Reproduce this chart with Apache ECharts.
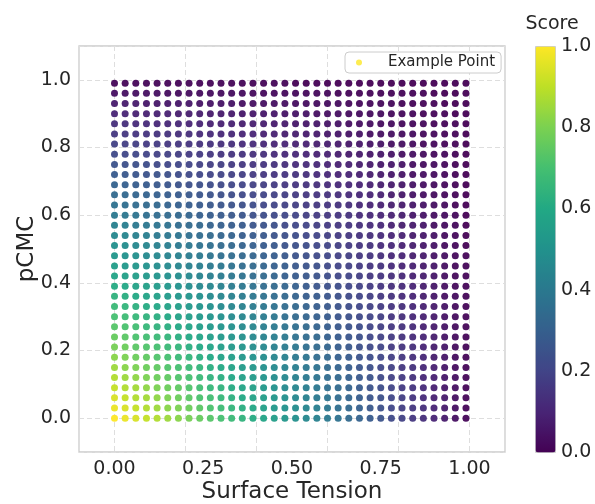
<!DOCTYPE html>
<html>
<head>
<meta charset="utf-8">
<script src="https://cdn.jsdelivr.net/npm/echarts@6/dist/echarts.min.js"></script>
<style>html,body{margin:0;padding:0;background:#fff}#c{width:595px;height:504px}</style>
</head>
<body>
<div id="c"></div>
<script>
// Grid coordinates (Surface Tension on x, pCMC on y)
const xGrid = [0,0.03,0.06,0.09,0.12,0.15,0.18,0.21,0.24,0.27,0.30,0.33,0.36,0.39,0.42,0.45,0.48,0.51,0.54,0.57,0.60,0.63,0.66,0.69,0.72,0.75,0.78,0.81,0.84,0.87,0.90,0.93,0.96,0.99];
const yGrid = [0,0.03,0.06,0.09,0.12,0.15,0.18,0.21,0.24,0.27,0.30,0.33,0.36,0.39,0.42,0.45,0.48,0.51,0.54,0.57,0.60,0.63,0.66,0.69,0.72,0.75,0.78,0.81,0.84,0.87,0.90,0.93,0.96,0.99];
// Score per row (row index = yGrid index, column index = xGrid index)
const scores = [
[1,.97,.94,.91,.88,.85,.82,.79,.76,.73,.70,.67,.64,.61,.58,.55,.52,.49,.46,.43,.40,.37,.34,.31,.28,.25,.22,.19,.16,.13,.10,.07,.04,.01],
[.97,.94,.91,.88,.85,.82,.80,.77,.74,.71,.68,.65,.62,.59,.56,.53,.50,.48,.45,.42,.39,.36,.33,.30,.27,.24,.21,.18,.16,.13,.10,.07,.04,.01],
[.94,.91,.88,.86,.83,.80,.77,.74,.71,.69,.66,.63,.60,.57,.55,.52,.49,.46,.43,.40,.38,.35,.32,.29,.26,.24,.21,.18,.15,.12,.09,.07,.04,.01],
[.91,.88,.86,.83,.80,.77,.75,.72,.69,.66,.64,.61,.58,.56,.53,.50,.47,.45,.42,.39,.36,.34,.31,.28,.25,.23,.20,.17,.15,.12,.09,.06,.04,.01],
[.88,.85,.83,.80,.77,.75,.72,.70,.67,.64,.62,.59,.56,.54,.51,.48,.46,.43,.40,.38,.35,.33,.30,.27,.25,.22,.19,.17,.14,.11,.09,.06,.04,.01],
[.85,.82,.80,.77,.75,.72,.70,.67,.65,.62,.60,.57,.54,.52,.49,.47,.44,.42,.39,.37,.34,.31,.29,.26,.24,.21,.19,.16,.14,.11,.09,.06,.03,.01],
[.82,.80,.77,.75,.72,.70,.67,.65,.62,.60,.57,.55,.52,.50,.48,.45,.43,.40,.38,.35,.33,.30,.28,.25,.23,.21,.18,.16,.13,.11,.08,.06,.03,.01],
[.79,.77,.74,.72,.70,.67,.65,.62,.60,.58,.55,.53,.51,.48,.46,.43,.41,.39,.36,.34,.32,.29,.27,.24,.22,.20,.17,.15,.13,.10,.08,.06,.03,.01],
[.76,.74,.71,.69,.67,.65,.62,.60,.58,.55,.53,.51,.49,.46,.44,.42,.40,.37,.35,.33,.30,.28,.26,.24,.21,.19,.17,.14,.12,.10,.08,.05,.03,.01],
[.73,.71,.69,.66,.64,.62,.60,.58,.55,.53,.51,.49,.47,.45,.42,.40,.38,.36,.34,.31,.29,.27,.25,.23,.20,.18,.16,.14,.12,.09,.07,.05,.03,.01],
[.70,.68,.66,.64,.62,.60,.57,.55,.53,.51,.49,.47,.45,.43,.41,.39,.36,.34,.32,.30,.28,.26,.24,.22,.20,.18,.15,.13,.11,.09,.07,.05,.03,.01],
[.67,.65,.63,.61,.59,.57,.55,.53,.51,.49,.47,.45,.43,.41,.39,.37,.35,.33,.31,.29,.27,.25,.23,.21,.19,.17,.15,.13,.11,.09,.07,.05,.03,.01],
[.64,.62,.60,.58,.56,.54,.52,.51,.49,.47,.45,.43,.41,.39,.37,.35,.33,.31,.29,.28,.26,.24,.22,.20,.18,.16,.14,.12,.10,.08,.06,.04,.03,.01],
[.61,.59,.57,.56,.54,.52,.50,.48,.46,.45,.43,.41,.39,.37,.35,.34,.32,.30,.28,.26,.24,.23,.21,.19,.17,.15,.13,.12,.10,.08,.06,.04,.02,.01],
[.58,.56,.55,.53,.51,.49,.48,.46,.44,.42,.41,.39,.37,.35,.34,.32,.30,.28,.27,.25,.23,.21,.20,.18,.16,.15,.13,.11,.09,.08,.06,.04,.02,.01],
[.55,.53,.52,.50,.48,.47,.45,.43,.42,.40,.39,.37,.35,.34,.32,.30,.29,.27,.25,.24,.22,.20,.19,.17,.15,.14,.12,.10,.09,.07,.06,.04,.02,.01],
[.52,.50,.49,.47,.46,.44,.43,.41,.40,.38,.36,.35,.33,.32,.30,.29,.27,.25,.24,.22,.21,.19,.18,.16,.15,.13,.11,.10,.08,.07,.05,.04,.02,.01],
[.49,.48,.46,.45,.43,.42,.40,.39,.37,.36,.34,.33,.31,.30,.28,.27,.25,.24,.23,.21,.20,.18,.17,.15,.14,.12,.11,.09,.08,.06,.05,.03,.02,0],
[.46,.45,.43,.42,.40,.39,.38,.36,.35,.34,.32,.31,.29,.28,.27,.25,.24,.23,.21,.20,.18,.17,.16,.14,.13,.12,.10,.09,.07,.06,.05,.03,.02,0],
[.43,.42,.40,.39,.38,.37,.35,.34,.33,.31,.30,.29,.28,.26,.25,.24,.22,.21,.20,.18,.17,.16,.15,.13,.12,.11,.09,.08,.07,.06,.04,.03,.02,0],
[.40,.39,.38,.36,.35,.34,.33,.32,.30,.29,.28,.27,.26,.24,.23,.22,.21,.20,.18,.17,.16,.15,.14,.12,.11,.10,.09,.08,.06,.05,.04,.03,.02,0],
[.37,.36,.35,.34,.33,.31,.30,.29,.28,.27,.26,.25,.24,.23,.21,.20,.19,.18,.17,.16,.15,.14,.13,.11,.10,.09,.08,.07,.06,.05,.04,.03,.01,0],
[.34,.33,.32,.31,.30,.29,.28,.27,.26,.25,.24,.23,.22,.21,.20,.19,.18,.17,.16,.15,.14,.13,.12,.11,.10,.09,.07,.06,.05,.04,.03,.02,.01,0],
[.31,.30,.29,.28,.27,.26,.25,.24,.24,.23,.22,.21,.20,.19,.18,.17,.16,.15,.14,.13,.12,.11,.11,.10,.09,.08,.07,.06,.05,.04,.03,.02,.01,0],
[.28,.27,.26,.25,.25,.24,.23,.22,.21,.20,.20,.19,.18,.17,.16,.15,.15,.14,.13,.12,.11,.10,.10,.09,.08,.07,.06,.05,.04,.04,.03,.02,.01,0],
[.25,.24,.24,.23,.22,.21,.21,.20,.19,.18,.18,.17,.16,.15,.15,.14,.13,.12,.12,.11,.10,.09,.09,.08,.07,.06,.06,.05,.04,.03,.03,.02,.01,0],
[.22,.21,.21,.20,.19,.19,.18,.17,.17,.16,.15,.15,.14,.13,.13,.12,.11,.11,.10,.09,.09,.08,.07,.07,.06,.06,.05,.04,.04,.03,.02,.02,.01,0],
[.19,.18,.18,.17,.17,.16,.16,.15,.14,.14,.13,.13,.12,.12,.11,.10,.10,.09,.09,.08,.08,.07,.06,.06,.05,.05,.04,.04,.03,.02,.02,.01,.01,0],
[.16,.16,.15,.15,.14,.14,.13,.13,.12,.12,.11,.11,.10,.10,.09,.09,.08,.08,.07,.07,.06,.06,.05,.05,.04,.04,.04,.03,.03,.02,.02,.01,.01,0],
[.13,.13,.12,.12,.11,.11,.11,.10,.10,.09,.09,.09,.08,.08,.08,.07,.07,.06,.06,.06,.05,.05,.04,.04,.04,.03,.03,.02,.02,.02,.01,.01,.01,0],
[.10,.10,.09,.09,.09,.09,.08,.08,.08,.07,.07,.07,.06,.06,.06,.06,.05,.05,.05,.04,.04,.04,.03,.03,.03,.03,.02,.02,.02,.01,.01,.01,0,0],
[.07,.07,.07,.06,.06,.06,.06,.06,.05,.05,.05,.05,.04,.04,.04,.04,.04,.03,.03,.03,.03,.03,.02,.02,.02,.02,.02,.01,.01,.01,.01,0,0,0],
[.04,.04,.04,.04,.04,.03,.03,.03,.03,.03,.03,.03,.03,.02,.02,.02,.02,.02,.02,.02,.02,.01,.01,.01,.01,.01,.01,.01,.01,.01,0,0,0,0],
[.01,.01,.01,.01,.01,.01,.01,.01,.01,.01,.01,.01,.01,.01,.01,.01,.01,0,0,0,0,0,0,0,0,0,0,0,0,0,0,0,0,0]
];
const xTicks = [0, 0.25, 0.5, 0.75, 1.0];
const yTicks = [0, 0.2, 0.4, 0.6, 0.8, 1.0];
const legendName = 'Example Point';

const viridis = ['#440154','#482475','#414487','#355f8d','#2a788e','#21918c','#22a884','#44bf70','#7ad151','#bddf26','#fde725'];

const pts = [];
for (let j = 0; j < yGrid.length; j++) {
  for (let i = 0; i < xGrid.length; i++) {
    pts.push([xGrid[i], yGrid[j], scores[j][i]]);
  }
}

const FONT = 'DejaVu Sans';
const TXT = '#262626';
const chart = echarts.init(document.getElementById('c'), null, {renderer: 'canvas'});
chart.setOption({
  backgroundColor: '#ffffff',
  animation: false,
  textStyle: {fontFamily: FONT},
  grid: [
    {left: 79, top: 46, width: 426, height: 406, show: true, borderColor: '#cccccc', borderWidth: 1.3,
     backgroundColor: 'transparent', containLabel: false, outerBoundsMode: 'none'},
    {left: 535, top: 46, width: 20, height: 406, show: false, containLabel: false, outerBoundsMode: 'none'}
  ],
  xAxis: [
    {
      type: 'value', gridIndex: 0, min: -0.1, max: 1.1,
      axisLine: {show: false}, axisTick: {show: false},
      axisLabel: {customValues: xTicks, formatter: v => v.toFixed(2), fontSize: 19, color: TXT, fontFamily: FONT, margin: 8},
      splitLine: {show: true, customValues: xTicks, lineStyle: {color: '#dedede', type: [5, 3], width: 1}},
      name: 'Surface Tension', nameLocation: 'middle', nameGap: 29, nameMoveOverlap: false,
      nameTextStyle: {fontSize: 23, color: TXT, fontFamily: FONT}
    },
    {type: 'value', gridIndex: 1, min: 0, max: 1, show: false}
  ],
  yAxis: [
    {
      type: 'value', gridIndex: 0, min: -0.1, max: 1.1,
      axisLine: {show: false}, axisTick: {show: false},
      axisLabel: {customValues: yTicks, formatter: v => v.toFixed(1), fontSize: 19, color: TXT, fontFamily: FONT, margin: 8},
      splitLine: {show: true, customValues: yTicks, lineStyle: {color: '#dedede', type: [5, 3], width: 1}},
      name: 'pCMC', nameLocation: 'middle', nameGap: 40, nameMoveOverlap: false,
      nameTextStyle: {fontSize: 23, color: TXT, fontFamily: FONT}
    },
    {
      type: 'value', gridIndex: 1, min: 0, max: 1, interval: 0.2, position: 'right',
      axisLine: {show: false}, axisTick: {show: false}, splitLine: {show: false},
      axisLabel: {formatter: v => v.toFixed(1), fontSize: 19, color: TXT, fontFamily: FONT, margin: 6},
      name: 'Score', nameLocation: 'end', nameGap: 12, nameMoveOverlap: false,
      nameTextStyle: {fontSize: 19, color: TXT, fontFamily: FONT, padding: [0, 0, 0, 34]}
    }
  ],
  visualMap: {
    type: 'continuous', min: 0, max: 1, dimension: 2, seriesIndex: 0,
    orient: 'vertical', left: 535, top: 46, itemWidth: 20, itemHeight: 406,
    padding: 0, calculable: false, hoverLink: false, text: null, showLabel: false,
    borderColor: '#cccccc', borderWidth: 1,
    inRange: {color: viridis}
  },
  legend: {
    data: [legendName], left: 345, top: 52, orient: 'vertical',
    backgroundColor: '#ffffff', borderColor: '#cccccc', borderWidth: 1, borderRadius: 4,
    padding: [3, 6, 3, 11], icon: 'circle', itemWidth: 6, itemHeight: 6,
    textStyle: {fontSize: 15, color: TXT, fontFamily: FONT, padding: [0, 0, 0, 21]}
  },
  series: [
    {
      type: 'scatter', xAxisIndex: 0, yAxisIndex: 0, symbolSize: 7,
      data: pts, itemStyle: {opacity: 0.95}, silent: true
    },
    {
      name: legendName, type: 'scatter', xAxisIndex: 0, yAxisIndex: 0,
      symbolSize: 7, data: [], itemStyle: {color: '#fde725'}
    }
  ]
});
</script>
</body>
</html>
